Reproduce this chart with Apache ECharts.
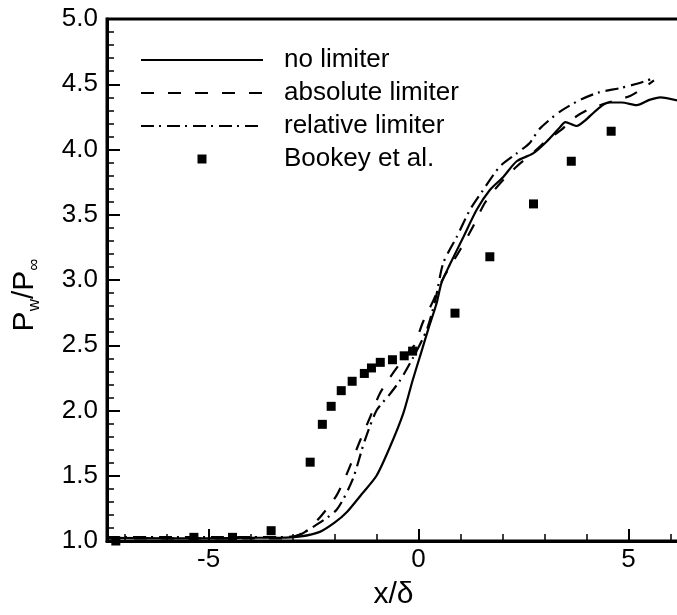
<!DOCTYPE html>
<html>
<head>
<meta charset="utf-8">
<script src="https://cdn.jsdelivr.net/npm/echarts@6/dist/echarts.min.js"></script>
<style>
  html, body { margin: 0; padding: 0; background: #fff; }
  #pw-chart { width: 677px; height: 615px; }
</style>
</head>
<body>
<div id="pw-chart"></div>
<script>
// 壁面压力分布 Pw/P∞ vs x/δ
var xMajorTicks = [-5, 0, 5];
var xMinorTicks = [-7, -6, -4, -3, -2, -1, 1, 2, 3, 4, 6];

var noLimiterX = [-7.42, -6, -5, -4, -3.3, -2.8, -2.35, -2.0, -1.71, -1.35, -1.0, -0.68, -0.36, -0.14, 0.06, 0.23, 0.43, 0.55, 0.75, 1.07, 1.39, 1.7, 2.02, 2.34, 2.73, 3.05, 3.37, 3.5, 3.77, 3.96, 4.27, 4.53, 4.84, 5.2, 5.5, 5.76, 6.23];
var noLimiterY = [1.025, 1.02, 1.02, 1.025, 1.025, 1.035, 1.07, 1.14, 1.22, 1.36, 1.5, 1.72, 1.98, 2.23, 2.44, 2.62, 2.82, 2.98, 3.12, 3.33, 3.54, 3.69, 3.79, 3.91, 3.97, 4.06, 4.17, 4.21, 4.18, 4.22, 4.31, 4.36, 4.36, 4.34, 4.38, 4.4, 4.37];

var absLimiterX = [-7.42, -6, -5, -4, -3.3, -3.0, -2.7, -2.35, -1.95, -1.7, -1.39, -1.15, -0.92, -0.6, -0.3, -0.1, 0.11, 0.35, 0.6, 0.99, 1.3, 1.58, 1.94, 2.34, 2.78, 3.09, 3.4, 3.7, 4.01, 4.42, 4.73, 5.04, 5.35, 5.61];
var absLimiterY = [1.02, 1.02, 1.02, 1.02, 1.02, 1.03, 1.07, 1.18, 1.35, 1.52, 1.77, 1.95, 2.13, 2.29, 2.42, 2.5, 2.68, 2.84, 3.02, 3.23, 3.41, 3.59, 3.74, 3.87, 3.99, 4.08, 4.15, 4.24, 4.3, 4.35, 4.38, 4.41, 4.47, 4.53];

var relLimiterX = [-7.42, -6, -5, -4, -3.3, -2.9, -2.5, -1.95, -1.57, -1.29, -1.0, -0.72, -0.44, -0.12, 0.2, 0.41, 0.59, 0.91, 1.23, 1.54, 1.94, 2.34, 2.65, 2.89, 3.37, 3.85, 4.32, 4.8, 5.27, 5.63];
var relLimiterY = [1.03, 1.03, 1.03, 1.03, 1.03, 1.04, 1.11, 1.24, 1.47, 1.76, 2.0, 2.11, 2.23, 2.41, 2.62, 2.86, 3.13, 3.33, 3.54, 3.69, 3.87, 3.97, 4.05, 4.16, 4.29, 4.38, 4.44, 4.47, 4.51, 4.55];

var bookeyX = [-7.21, -5.35, -4.43, -3.51, -2.58, -2.29, -2.08, -1.84, -1.58, -1.29, -1.12, -0.91, -0.62, -0.34, -0.14, 0.87, 1.70, 2.74, 3.64, 4.59];
var bookeyY = [1.0, 1.028, 1.028, 1.079, 1.604, 1.894, 2.032, 2.152, 2.224, 2.284, 2.326, 2.369, 2.389, 2.419, 2.455, 2.746, 3.178, 3.583, 3.91, 4.14];

var seriesNames = ['no limiter', 'absolute limiter', 'relative limiter', 'Bookey et al.'];

function zip(xs, ys) {
  return xs.map(function (x, i) { return [x, ys[i]]; });
}

var font = 'Liberation Sans, Arial, Helvetica, sans-serif';
var X_MIN = -7.42, X_MAX = 6.23;
var hideSymbol = { opacity: 0 };

var chart = echarts.init(document.getElementById('pw-chart'));
var option = {
  animation: false,
  backgroundColor: '#fff',
  grid: {
    left: 107, top: 19, right: -3, bottom: 74,
    outerBoundsMode: 'none', containLabel: false,
    show: true, borderColor: '#000', borderWidth: 3, backgroundColor: 'transparent'
  },
  legend: {
    left: 140, top: 47, orient: 'vertical', padding: 0,
    itemWidth: 122, itemHeight: 9, itemGap: 7,
    selectedMode: false,
    symbolKeepAspect: true,
    data: [
      { name: seriesNames[0], itemStyle: hideSymbol },
      { name: seriesNames[1], itemStyle: hideSymbol },
      { name: seriesNames[2], itemStyle: hideSymbol },
      { name: seriesNames[3], icon: 'path://M0,0L10,0L10,10L0,10Z' }
    ],
    textStyle: { fontSize: 26, color: '#000', fontFamily: font, lineHeight: 26, padding: [0, 0, 0, 16] }
  },
  xAxis: [
    {
      type: 'value', min: X_MIN, max: X_MAX,
      axisLine: { onZero: false, lineStyle: { color: '#000', width: 3 } },
      axisTick: { inside: true, length: 12, customValues: xMajorTicks, lineStyle: { color: '#000', width: 2 } },
      axisLabel: { customValues: xMajorTicks, color: '#000', fontSize: 26, fontFamily: font, margin: 6 },
      splitLine: { show: false },
      name: 'x/δ', nameLocation: 'middle', nameGap: 39,
      nameTextStyle: { fontSize: 30, color: '#000', fontFamily: font }
    },
    {
      type: 'value', min: X_MIN, max: X_MAX, position: 'bottom',
      axisLine: { show: false, onZero: false },
      axisTick: { inside: true, length: 7, customValues: xMinorTicks, lineStyle: { color: '#000', width: 1.5 } },
      axisLabel: { show: false },
      splitLine: { show: false }
    }
  ],
  yAxis: {
    type: 'value', min: 1, max: 5, interval: 0.5,
    axisLine: { onZero: false, lineStyle: { color: '#000', width: 3 } },
    axisTick: { inside: true, length: 13, lineStyle: { color: '#000', width: 2 } },
    minorTick: { show: true, splitNumber: 5, length: 7, lineStyle: { color: '#000', width: 1.5 } },
    axisLabel: {
      color: '#000', fontSize: 26, fontFamily: font, margin: 9,
      formatter: function (v) { return v.toFixed(1); }
    },
    splitLine: { show: false },
    name: '{a|P}{b|w}{a|/P}{b|∞}', nameLocation: 'middle', nameGap: 64,
    nameTextStyle: {
      color: '#000', fontFamily: font, padding: [0, 30, 0, 0],
      rich: {
        a: { fontSize: 30, lineHeight: 36, color: '#000', fontFamily: font },
        b: { fontSize: 17, lineHeight: 17, verticalAlign: 'bottom', color: '#000', fontFamily: font }
      }
    }
  },
  series: [
    {
      name: seriesNames[0], type: 'line', symbol: 'none', smooth: 0.25,
      lineStyle: { color: '#000', width: 2.2, type: 'solid' },
      itemStyle: { color: '#000' },
      data: zip(noLimiterX, noLimiterY)
    },
    {
      name: seriesNames[1], type: 'line', symbol: 'none', smooth: 0.25,
      lineStyle: { color: '#000', width: 2.2, type: [13, 14] },
      itemStyle: { color: '#000' },
      data: zip(absLimiterX, absLimiterY)
    },
    {
      name: seriesNames[2], type: 'line', symbol: 'none', smooth: 0.25,
      lineStyle: { color: '#000', width: 2.2, type: [13, 5, 2, 6] },
      itemStyle: { color: '#000' },
      data: zip(relLimiterX, relLimiterY)
    },
    {
      name: seriesNames[3], type: 'scatter', symbol: 'rect', symbolSize: 9,
      itemStyle: { color: '#000', opacity: 1 },
      data: zip(bookeyX, bookeyY)
    }
  ]
};
chart.setOption(option);
</script>
</body>
</html>
